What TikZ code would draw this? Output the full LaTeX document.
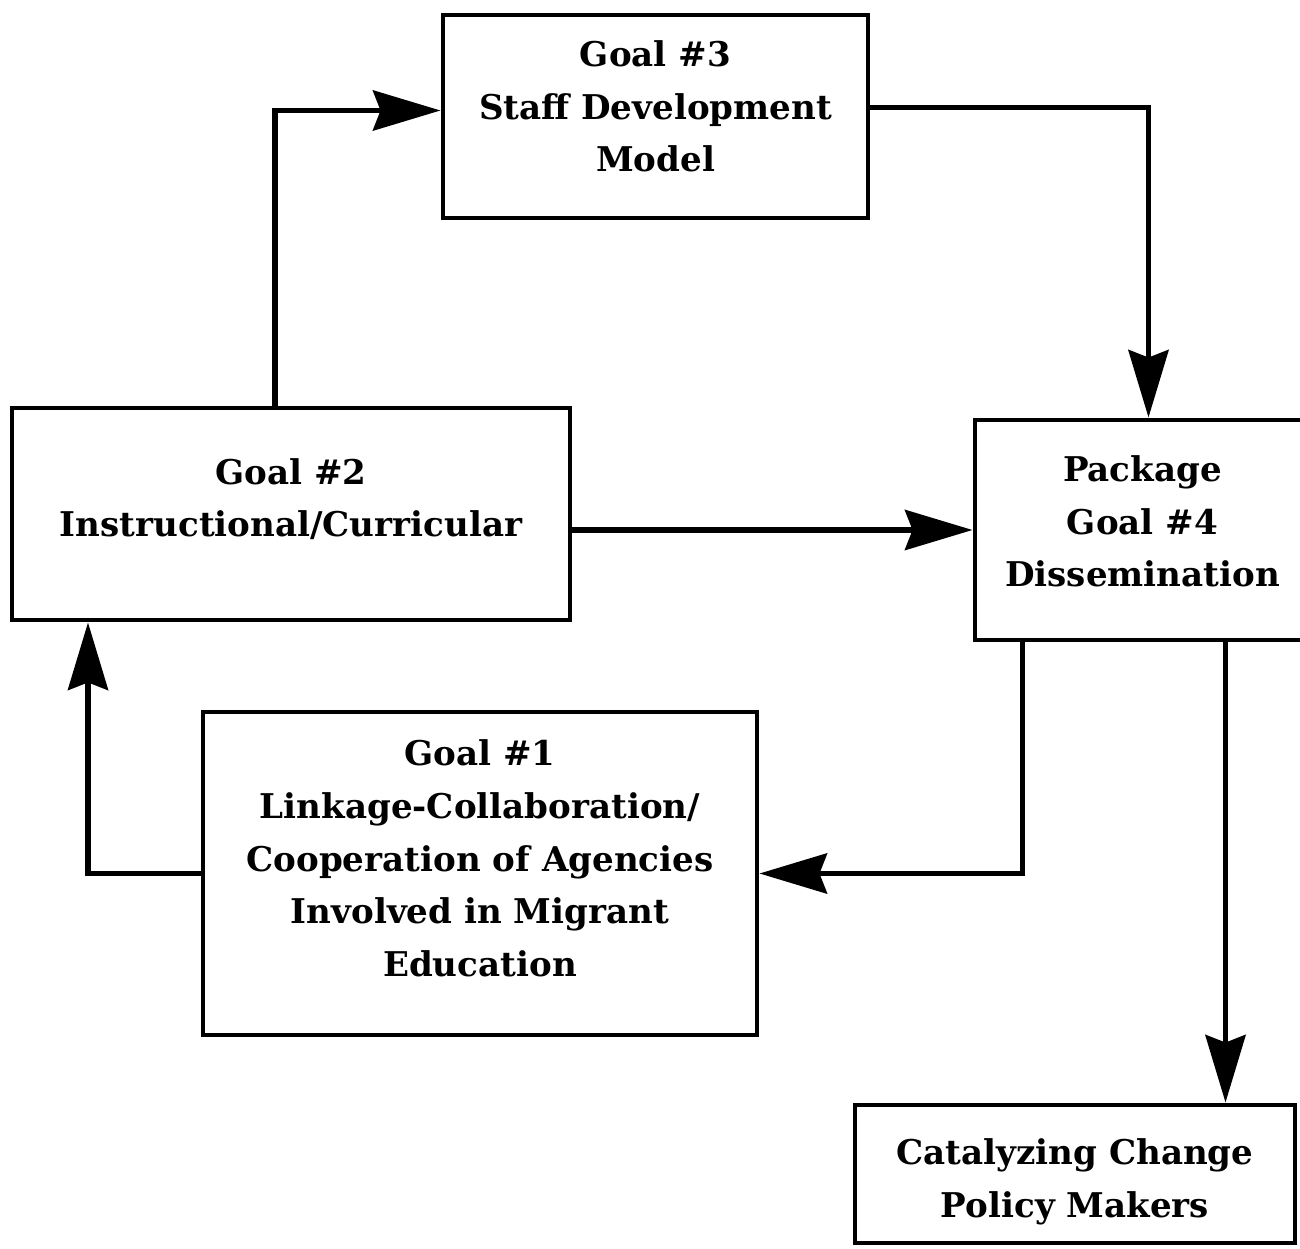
\documentclass[tikz,border=0pt]{standalone}
\usepackage{fontspec}
\setmainfont{DejaVu Serif}
\usetikzlibrary{arrows.meta, positioning}

\begin{document}
\begin{tikzpicture}[>=Stealth,
    goalbox/.style={draw, line width=2.8pt, inner sep=0pt},
    goaltext/.style={align=center, inner sep=0pt,
        font=\fontsize{19.4}{30}\selectfont\bfseries},
    flow/.style={->, line width=3.2pt,
        >={Stealth[length=1.35cm, width=0.8cm, inset=0.15cm]}}]
\useasboundingbox (0,0) rectangle (26,-24.98);

% Goals
\node[goalbox, minimum width=8.5cm, minimum height=4.06cm,
    label={[goaltext, yshift=0.2cm]center:{Goal \#3\\Staff Development\\Model}}]
    (g3) at (13.11,-2.33) {};
\node[goalbox, minimum width=11.16cm, minimum height=4.24cm,
    label={[goaltext, yshift=0.3cm]center:{Goal \#2\\Instructional/Curricular}}]
    (g2) at (5.82,-10.28) {};
\node[goalbox, minimum width=6.7cm, minimum height=4.4cm,
    label={[goaltext, yshift=0.17cm]center:{Package\\Goal \#4\\Dissemination}}]
    (g4) at (22.85,-10.6) {};
\node[goalbox, minimum width=11.08cm, minimum height=6.46cm,
    label={[goaltext, yshift=0.3cm]center:{Goal \#1\\Linkage-Collaboration/\\Cooperation of Agencies\\Involved in Migrant\\Education}}]
    (g1) at (9.6,-17.47) {};
\node[goalbox, minimum width=8.8cm, minimum height=2.76cm,
    label={[goaltext, yshift=-0.15cm]center:{Catalyzing Change\\Policy Makers}}]
    (g5) at (21.5,-23.48) {};

% Arrows
\draw[flow] ([xshift=-0.32cm]g2.north) |- ([yshift=0.12cm]g3.west);
\draw[flow] ([yshift=0.18cm]g3.east) -| ([xshift=0.12cm]g4.north);
\draw[flow] (g2.east |- g4.west) -- (g4.west);
\draw[flow] ([xshift=-2.4cm]g4.south) |- (g1.east);
\draw[flow] (g1.west) -| ([xshift=-4.06cm]g2.south);
\draw[flow] ([xshift=1.66cm]g4.south) -- ([xshift=1.66cm]g4.south |- g5.north);
\end{tikzpicture}
\end{document}
